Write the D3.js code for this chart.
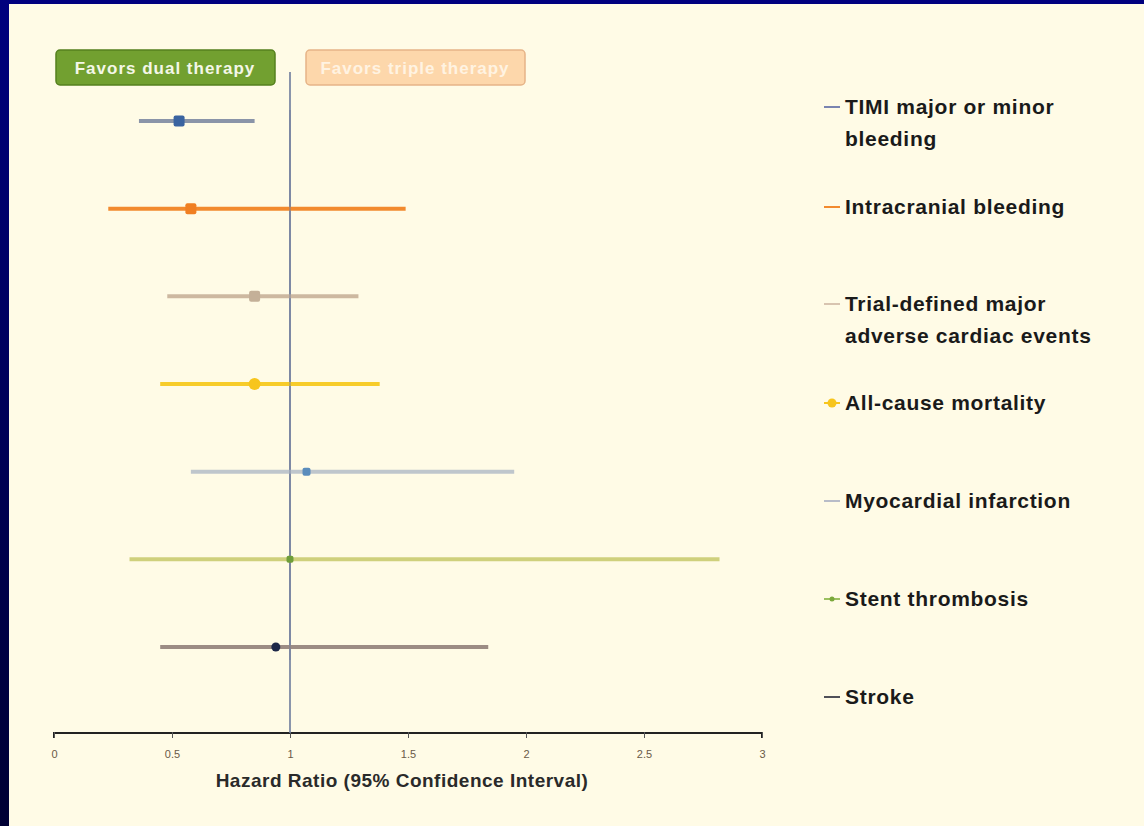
<!DOCTYPE html>
<html>
<head>
<meta charset="utf-8">
<script src="https://cdn.jsdelivr.net/npm/d3@7"></script>
<style>
  html, body { margin: 0; padding: 0; background: #fffbe6; }
  svg { display: block; font-family: "Liberation Sans", Arial, sans-serif; }
</style>
</head>
<body>
<svg width="1144" height="826"></svg>
<script>
// forest plot data
const outcomes = ['TIMI major or minor bleeding', 'Intracranial bleeding', 'Trial-defined major adverse cardiac events',
  'All-cause mortality', 'Myocardial infarction', 'Stent thrombosis', 'Stroke'];
const legendLines = [['TIMI major or minor', 'bleeding'], ['Intracranial bleeding'], ['Trial-defined major', 'adverse cardiac events'],
  ['All-cause mortality'], ['Myocardial infarction'], ['Stent thrombosis'], ['Stroke']];
const hr = [0.53, 0.58, 0.85, 0.85, 1.07, 1.0, 0.94];
const lower = [0.36, 0.23, 0.48, 0.45, 0.58, 0.32, 0.45];
const upper = [0.85, 1.49, 1.29, 1.38, 1.95, 2.82, 1.84];
const xTicks = [0, 0.5, 1, 1.5, 2, 2.5, 3];

const lineColor = ['#8a94a8', '#f28a2e', '#cdb8a0', '#f7cc2a', '#bfc6cc', '#cfd07c', '#9c8c84'];
const dotColor = ['#3a63a0', '#f07f22', '#c4b098', '#f7c51c', '#5a8cbc', '#6f9e3a', '#1d2748'];
const dotSize = [11, 11, 11, 12, 8, 7, 9];
const dotShape = ['rect', 'rect', 'rect', 'circle', 'rect', 'rect', 'circle'];
const legendDash = ['#7a84b0', '#f28a2e', '#d8c4b0', '#f7c51c', '#b8bcc8', '#9cc060', '#505058'];

const svg = d3.select('svg');

// frame
svg.append('rect').attr('x', 0).attr('y', 0).attr('width', 1144).attr('height', 826).attr('fill', '#fffbe6');
const grad = svg.append('defs').append('linearGradient').attr('id', 'edge')
  .attr('x1', 0).attr('y1', 0).attr('x2', 0).attr('y2', 1);
grad.append('stop').attr('offset', 0).attr('stop-color', '#00007e');
grad.append('stop').attr('offset', 1).attr('stop-color', '#000033');
svg.append('rect').attr('x', 0).attr('y', 0).attr('width', 1144).attr('height', 4).attr('fill', '#00007e');
svg.append('rect').attr('x', 0).attr('y', 0).attr('width', 9).attr('height', 826).attr('fill', 'url(#edge)');

const x = d3.scaleLinear().domain([0, 3]).range([54, 762]);
const y = d3.scalePoint().domain(outcomes).range([121, 647]);
const axisY = 733;

// axis
const axis = svg.append('g')
  .attr('transform', `translate(0,${axisY})`)
  .call(d3.axisBottom(x).tickValues(xTicks).tickSize(5).tickFormat(d3.format('')));
axis.select('.domain').attr('stroke', '#222').attr('stroke-width', 2).attr('d', `M${x(0)},5V0H${x(3)}V5`);
axis.selectAll('.tick line').attr('stroke', '#555').attr('y1', -1);
axis.selectAll('.tick text').attr('fill', '#6a5a48').attr('font-size', 11).attr('dy', '1.5em');

svg.append('text')
  .attr('x', 402).attr('y', 787)
  .attr('text-anchor', 'middle')
  .attr('font-size', 19).attr('font-weight', 'bold')
  .attr('letter-spacing', 0.5)
  .attr('fill', '#2a2a2a')
  .text('Hazard Ratio (95% Confidence Interval)');

// reference line at 1
svg.append('line')
  .attr('x1', x(1)).attr('x2', x(1))
  .attr('y1', 72).attr('y2', axisY)
  .attr('stroke', '#6d7b9c').attr('stroke-width', 1.6);

// favors boxes
const boxes = [
  { label: 'Favors dual therapy', x0: 56, fill: '#72a030', stroke: '#55801e', text: '#f4f7e8' },
  { label: 'Favors triple therapy', x0: 306, fill: '#fdd7ab', stroke: '#e6b488', text: '#fff3e2' }
];
const box = svg.selectAll('g.box').data(boxes).enter().append('g').attr('class', 'box');
box.append('rect')
  .attr('x', d => d.x0).attr('y', 50).attr('width', 219).attr('height', 35).attr('rx', 4)
  .attr('fill', d => d.fill).attr('stroke', d => d.stroke).attr('stroke-width', 1.5);
box.append('text')
  .attr('x', d => d.x0 + 109).attr('y', 74)
  .attr('text-anchor', 'middle').attr('font-size', 17).attr('font-weight', 'bold')
  .attr('letter-spacing', 1)
  .attr('fill', d => d.text)
  .text(d => d.label);

// confidence intervals
const rows = outcomes.map((o, i) => ({ o, i, hr: hr[i], lo: lower[i], hi: upper[i] }));
svg.selectAll('line.ci').data(rows).enter().append('line')
  .attr('class', 'ci')
  .attr('x1', d => x(d.lo)).attr('x2', d => x(d.hi))
  .attr('y1', d => y(d.o)).attr('y2', d => y(d.o))
  .attr('stroke', d => lineColor[d.i]).attr('stroke-width', 4);

// re-draw reference line thin over the CIs
svg.append('line')
  .attr('x1', x(1)).attr('x2', x(1))
  .attr('y1', 110).attr('y2', 660)
  .attr('stroke', '#6d7b9c').attr('stroke-width', 1.2).attr('opacity', 0.7);

// point estimates
rows.forEach(d => {
  const s = dotSize[d.i];
  if (dotShape[d.i] === 'rect') {
    svg.append('rect')
      .attr('x', x(d.hr) - s / 2).attr('y', y(d.o) - s / 2)
      .attr('width', s).attr('height', s).attr('rx', 2)
      .attr('fill', dotColor[d.i]);
  } else {
    svg.append('circle')
      .attr('cx', x(d.hr)).attr('cy', y(d.o)).attr('r', s / 2)
      .attr('fill', dotColor[d.i]);
  }
});

// legend
const legendY = [107, 207, 304, 403, 501, 599, 697];
const leg = svg.selectAll('g.leg').data(legendLines).enter().append('g')
  .attr('class', 'leg')
  .attr('transform', (d, i) => `translate(824,${legendY[i]})`);
leg.append('line')
  .attr('x1', 0).attr('x2', 16).attr('y1', 0).attr('y2', 0)
  .attr('stroke', (d, i) => legendDash[i]).attr('stroke-width', 2);
leg.filter((d, i) => i === 3).append('circle')
  .attr('cx', 8).attr('r', 4.5)
  .attr('fill', '#f7c51c');
leg.filter((d, i) => i === 5).append('circle')
  .attr('cx', 8).attr('r', 2.5).attr('fill', '#7aa83a');
leg.append('text')
  .attr('x', 21).attr('y', 7)
  .attr('font-size', 21).attr('font-weight', 'bold')
  .attr('fill', '#1a1a1a').attr('letter-spacing', 0.7)
  .selectAll('tspan').data(d => d).enter().append('tspan')
  .attr('x', 21).attr('dy', (d, i) => i === 0 ? 0 : 32)
  .text(d => d);
</script>
</body>
</html>
